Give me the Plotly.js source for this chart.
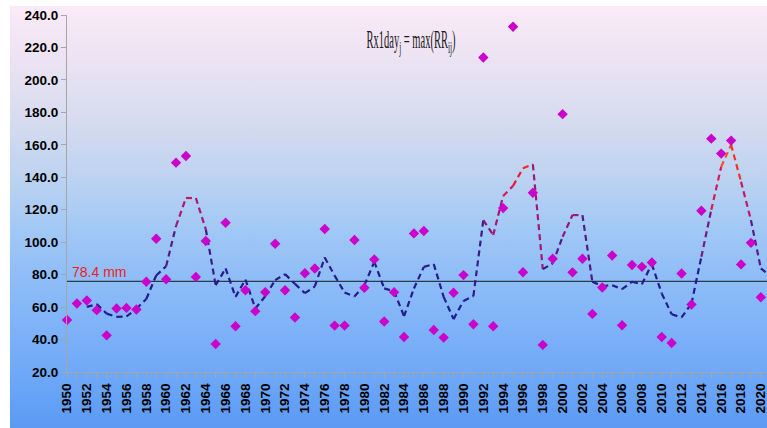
<!DOCTYPE html>
<html>
<head>
<meta charset="utf-8">
<script src="https://cdn.plot.ly/plotly-3.0.1.min.js"></script>
<style>
  html, body { margin: 0; padding: 0; background: #ffffff; }
  #chart {
    width: 767px; height: 428px;
    background-color: #ffffff;
    background-image: linear-gradient(to bottom, #fbeaf7 0%, #ece3f3 12%, #d8dcef 26%, #bed3f1 40%, #a3c9f5 52%, #8fbdf7 64%, #7cb1f8 78%, #6aa5f7 90%, #5b99f5 100%);
    background-repeat: no-repeat;
    background-position: 10px 6px;
    background-size: 757px 422px;
  }
</style>
</head>
<body>
<div id="chart"></div>
<script>
// ---- data ----
var years = [1950,1951,1952,1953,1954,1955,1956,1957,1958,1959,
             1960,1961,1962,1963,1964,1965,1966,1967,1968,1969,
             1970,1971,1972,1973,1974,1975,1976,1977,1978,1979,
             1980,1981,1982,1983,1984,1985,1986,1987,1988,1989,
             1990,1991,1992,1993,1994,1995,1996,1997,1998,1999,
             2000,2001,2002,2003,2004,2005,2006,2007,2008,2009,
             2010,2011,2012,2013,2014,2015,2016,2017,2018,2019,
             2020];
var rx1day = [52.0,62.2,64.1,58.1,42.6,59.1,59.5,58.5,75.6,102.1,
              77.2,149.0,153.1,78.6,100.7,37.3,112.0,48.2,70.4,57.5,
              69.2,99.0,70.4,53.6,80.9,83.8,108.1,48.6,48.6,101.3,
              71.9,89.4,51.1,69.2,41.6,105.4,106.9,45.9,41.2,68.8,
              79.7,49.4,213.8,48.2,121.0,232.8,81.5,130.5,36.7,89.8,
              178.9,81.4,89.8,55.8,72.1,91.8,48.8,85.9,84.8,87.5,
              41.6,37.9,80.7,61.6,119.4,163.8,154.6,162.6,86.3,99.6,
              66.1];
var trendYears = [1952,1953,1954,1955,1956,1957,1958,1959,
                  1960,1961,1962,1963,1964,1965,1966,1967,1968,1969,
                  1970,1971,1972,1973,1974,1975,1976,1977,1978,1979,
                  1980,1981,1982,1983,1984,1985,1986,1987,1988,1989,
                  1990,1991,1992,1993,1994,1995,1996,1997,1998,1999,
                  2000,2001,2002,2003,2004,2005,2006,2007,2008,2009,
                  2010,2011,2012,2013,2014,2015,2016,2017,2018,2019,
                  2020,2021];
var trendValues = [60.1,61.8,56.0,54.0,54.2,59.0,65.0,79.5,
                   85.2,110.0,127.2,127.2,108.0,73.5,83.8,66.3,77.0,59.1,
                   66.7,76.6,80.3,74.3,68.6,72.7,90.6,79.4,69.0,66.5,
                   73.5,87.9,71.5,69.7,54.4,71.5,84.8,86.5,66.3,52.6,
                   63.8,66.8,113.6,104.4,128.5,134.7,145.6,147.9,83.4,86.9,
                   103.3,116.7,116.7,75.6,73.0,73.5,71.1,75.6,74.1,86.5,
                   68.4,55.6,53.6,62.2,91.0,120.0,146.5,160.0,137.3,113.6,
                   83.8,79.0];
var meanLineValue = 75.9;
var meanLabel = "78.4 mm";
var xTickVals = [1950,1952,1954,1956,1958,1960,1962,1964,1966,1968,1970,1972,1974,1976,1978,1980,1982,1984,1986,1988,1990,1992,1994,1996,1998,2000,2002,2004,2006,2008,2010,2012,2014,2016,2018,2020];
var xTickText = ["1950","1952","1954","1956","1958","1960","1962","1964","1966","1968","1970","1972","1974","1976","1978","1980","1982","1984","1986","1988","1990","1992","1994","1996","1998","2000","2002","2004","2006","2008","2010","2012","2014","2016","2018","2020"];
var yTickVals = [20,40,60,80,100,120,140,160,180,200,220,240];
var yTickText = ["20.0","40.0","60.0","80.0","100.0","120.0","140.0","160.0","180.0","200.0","220.0","240.0"];

// ---- styling helpers ----
var colorStops = [
  [0,   [36, 28, 140]],
  [80,  [36, 28, 140]],
  [92,  [62, 28, 136]],
  [105, [120, 26, 128]],
  [120, [176, 24, 112]],
  [132, [216, 24, 88]],
  [145, [240, 28, 36]],
  [160, [245, 128, 30]],
  [999, [245, 128, 30]]
];
function colorFor(v) {
  for (var i = 0; i < colorStops.length - 1; i++) {
    var a = colorStops[i], b = colorStops[i + 1];
    if (v >= a[0] && v <= b[0]) {
      var t = (v - a[0]) / (b[0] - a[0]);
      var c = [0, 1, 2].map(function (k) { return Math.round(a[1][k] + t * (b[1][k] - a[1][k])); });
      return 'rgb(' + c.join(',') + ')';
    }
  }
  return 'rgb(36,28,140)';
}

var traces = [];
for (var i = 0; i < trendYears.length - 1; i++) {
  var avg = (trendValues[i] + trendValues[i + 1]) / 2;
  traces.push({
    type: 'scatter', mode: 'lines',
    x: [trendYears[i], trendYears[i + 1]],
    y: [trendValues[i], trendValues[i + 1]],
    line: { color: colorFor(avg), width: 2.2, dash: '6px,4px', shape: 'linear' },
    hoverinfo: 'skip', showlegend: false
  });
}
traces.push({
  type: 'scatter', mode: 'markers',
  x: years, y: rx1day,
  marker: { symbol: 'diamond', size: 8, color: '#cc00cc', line: { width: 0 } },
  cliponaxis: false,
  showlegend: false
});

var axisGray = '#a6a6a6';
var layout = {
  width: 767, height: 428,
  margin: { l: 67, r: 0, t: 15, b: 56, pad: 0 },
  paper_bgcolor: 'rgba(0,0,0,0)',
  plot_bgcolor: 'rgba(0,0,0,0)',
  showlegend: false,
  xaxis: {
    range: [1950, 2020.62],
    tickmode: 'array', tickvals: xTickVals, ticktext: xTickText,
    tickangle: -90,
    ticklabeloverflow: 'allow',
    ticks: 'outside', ticklen: 5, tickcolor: axisGray, tickwidth: 1,
    minor: { dtick: 1, tick0: 1950, ticks: 'outside', ticklen: 5, tickcolor: axisGray, tickwidth: 1, showgrid: false },
    showline: true, linecolor: axisGray, linewidth: 1,
    showgrid: false, zeroline: false,
    tickfont: { family: 'Liberation Sans, Arial, sans-serif', size: 13.5, color: '#000000', weight: 'bold' }
  },
  yaxis: {
    range: [20, 240],
    tickmode: 'array', tickvals: yTickVals, ticktext: yTickText,
    ticks: 'outside', ticklen: 5, tickcolor: axisGray, tickwidth: 1,
    showline: true, linecolor: axisGray, linewidth: 1,
    showgrid: false, zeroline: false,
    tickfont: { family: 'Liberation Sans, Arial, sans-serif', size: 13.5, color: '#000000', weight: 'bold' }
  },
  shapes: [{
    type: 'line', xref: 'paper', x0: 0, x1: 1, yref: 'y', y0: meanLineValue, y1: meanLineValue,
    line: { color: '#2b3b4b', width: 1.2 }, layer: 'below'
  }],
  annotations: [
    {
      text: meanLabel, xref: 'x', yref: 'y', x: 1950.3, y: 81.7,
      xanchor: 'left', yanchor: 'middle', showarrow: false,
      font: { family: 'Liberation Sans, Arial, sans-serif', size: 14, color: '#ee1c1c' }
    },
    {
      text: 'Rx1day<sub>j</sub> = max(RR<sub>ij</sub>)',
      xref: 'paper', yref: 'paper', x: (411 - 67) / 700, y: (372 - 42) / 357,
      xanchor: 'center', yanchor: 'middle', showarrow: false,
      font: { family: 'Liberation Serif, DejaVu Serif, serif', size: 25, color: '#1a1a1a' }
    }
  ]
};

var gd = document.getElementById('chart');
Plotly.newPlot(gd, traces, layout, { staticPlot: true, displayModeBar: false }).then(function () {
  var texts = gd.querySelectorAll('.annotation-text');
  texts.forEach(function (t) {
    if (t.textContent.indexOf('Rx1day') === 0) {
      var bb = t.getBBox();
      var cx = bb.x + bb.width / 2;
      var s = 89 / bb.width;
      var prev = t.getAttribute('transform') || '';
      t.setAttribute('transform', prev + ' translate(' + cx + ',0) scale(' + s + ',1) translate(' + (-cx) + ',0)');
    }
  });
});
</script>
</body>
</html>
